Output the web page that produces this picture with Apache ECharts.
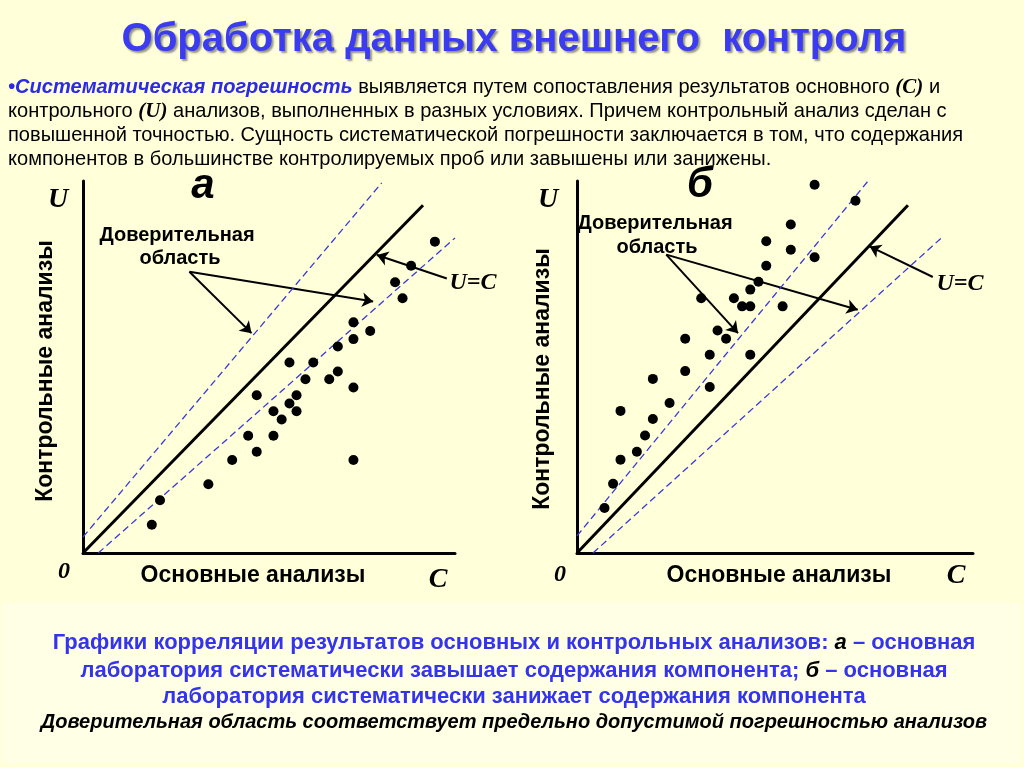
<!DOCTYPE html>
<html><head><meta charset="utf-8">
<script src="https://cdn.jsdelivr.net/npm/echarts@6/dist/echarts.min.js"></script>
<style>html,body{margin:0;padding:0;background:#FFFFDA}#c{width:1024px;height:767px}</style>
</head><body><div id="c"></div><script>
// ---- data (units of the plot: C on x, U on y) ----
const pointsA = [[94.6,83.7],[88.2,77.2],[83.9,72.8],[85.9,68.5],[72.7,62.0],[77.2,59.7],[72.7,57.5],[68.5,55.5],
  [55.5,51.2],[61.9,51.2],[59.8,46.7],[66.2,46.7],[68.5,48.8],[72.7,44.5],[46.7,42.4],[57.4,42.4],[55.5,40.2],
  [51.2,38.1],[57.4,38.1],[53.4,35.9],[44.4,31.5],[51.2,31.5],[46.7,27.2],[40.1,25.0],[72.7,25.0],[33.7,18.5],
  [20.7,14.2],[18.5,7.6]];
const pointsB = [[63.9,99.0],[74.9,94.7],[57.5,88.3],[50.9,83.8],[57.5,81.5],[63.9,79.5],[50.9,77.2],[48.8,72.9],
  [46.6,70.8],[33.4,68.5],[42.2,68.5],[44.4,66.3],[46.6,66.3],[55.3,66.3],[37.8,59.8],[40.1,57.6],[29.1,57.6],
  [35.7,53.3],[46.6,53.3],[29.1,48.9],[35.7,44.6],[20.4,46.8],[24.9,40.3],[11.7,38.2],[20.4,36.0],[18.3,31.6],
  [16.1,27.2],[11.7,25.1],[9.7,18.6],[7.4,12.1]];
const identityA = [[0,0],[91.4,93.5]];
const upperA = [[0,4.3],[80.3,99.5]];
const lowerA = [[4.1,0],[100,84.7]];
const identityB = [[0,0],[89,93.5]];
const upperB = [[0,4.6],[78.2,99.9]];
const lowerB = [[4.3,0],[98,84.7]];
const arrowsA = [[[28.6,75.6],[45.3,59.1]],[[28.6,75.6],[78.0,67.6]],[[97.8,73.8],[79.0,80.1]]];
const arrowsB = [[[24.0,80.2],[43.3,59.1]],[[24.0,80.2],[75.5,65.4]],[[95.7,74.2],[78.7,82.4]]];
const xMaxA = 100, yMaxA = 100, xMaxB = 106.5, yMaxB = 100;

const titleText = 'Обработка данных внешнего  контроля';
const bodyLines = [
  '{h|•Систематическая погрешность}{n| выявляется путем сопоставления результатов основного }{t|(C)}{n| и}',
  '{n|контрольного }{t|(U)}{n| анализов, выполненных в разных условиях. Причем контрольный анализ сделан с}',
  '{n|повышенной точностью. Сущность систематической погрешности заключается в том, что содержания}',
  '{n|компонентов в большинстве контролируемых проб или завышены или занижены.}'
];
const captionLines = [
  '{b|Графики корреляции результатов основных и контрольных анализов: }{k|а}{b| – основная}',
  '{b|лаборатория систематически завышает содержания компонента; }{k|б}{b| – основная}',
  '{b|лаборатория систематически занижает содержания компонента}',
  '{i|Доверительная область соответствует предельно допустимой погрешностью анализов}'
];
const labelRegion = ['Доверительная', 'область'];
const labelY = 'Контрольные анализы';
const labelX = 'Основные анализы';
const panelNames = ['а', 'б'];

const SANS = 'Liberation Sans, Arial, sans-serif';
const SERIF = 'Liberation Serif, Times New Roman, serif';
const BLUE = '#3434EE';

function axisX(i, max) {
  return {type:'value', gridIndex:i, min:0, max:max, axisLine:{show:true, onZero:false, lineStyle:{color:'#000', width:3}},
    axisTick:{show:false}, axisLabel:{show:false}, splitLine:{show:false}};
}
function seriesFor(i, pts, ident, up, low, arrows) {
  const lineBase = {type:'line', xAxisIndex:i, yAxisIndex:i, symbol:'none', showSymbol:false, silent:true};
  return [
    Object.assign({}, lineBase, {data:up, lineStyle:{color:'#3A3AD8', width:1.3, type:[7,4]}}),
    Object.assign({}, lineBase, {data:low, lineStyle:{color:'#3A3AD8', width:1.3, type:[7,4]}}),
    Object.assign({}, lineBase, {data:ident, lineStyle:{color:'#000', width:3}}),
    {type:'lines', coordinateSystem:'cartesian2d', xAxisIndex:i, yAxisIndex:i, symbol:['none','arrow'], symbolSize:[7,11],
      lineStyle:{color:'#000', width:2, opacity:1}, data:arrows.map(a => ({coords:a}))},
    {type:'scatter', xAxisIndex:i, yAxisIndex:i, symbolSize:10, itemStyle:{color:'#000', opacity:1}, data:pts, z:5}
  ];
}
function txt(x, y, text, font, fill, extra) {
  return Object.assign({type:'text', x:x, y:y, style:{text:text, font:font, fill:fill, textAlign:'center', textVerticalAlign:'middle'}}, extra||{});
}

const bodyRich = {
  h:{fontFamily:SANS, fontSize:21, fontStyle:'italic', fontWeight:'bold', fill:'#2B2BE6'},
  n:{fontFamily:SANS, fontSize:21, fill:'#000'},
  t:{fontFamily:SERIF, fontSize:22, fontStyle:'italic', fontWeight:'bold', fill:'#000'}
};
const capRich = {
  b:{fontFamily:SANS, fontSize:22, fontWeight:'bold', fill:BLUE},
  k:{fontFamily:SANS, fontSize:22, fontWeight:'bold', fontStyle:'italic', fill:'#000'},
  i:{fontFamily:SANS, fontSize:20, fontWeight:'bold', fontStyle:'italic', fill:'#000'}
};

const graphics = [
  {type:'rect', shape:{x:2, y:603, width:1019, height:160}, style:{fill:'#FFFFE6'}, z:-10},
  {type:'text', x:514, y:40,
    style:{text:titleText, font:'bold 40px ' + SANS, fill:'#3B3BF2', textAlign:'center', textVerticalAlign:'middle',
      textShadowColor:'rgba(60,60,60,0.55)', textShadowOffsetX:2, textShadowOffsetY:2, textShadowBlur:2}}
];
bodyLines.forEach((l, k) => graphics.push({type:'text', x:8, y:87 + 24*k, scaleX:0.955,
  style:{text:l, rich:bodyRich, textAlign:'left', textVerticalAlign:'middle'}}));
captionLines.forEach((l, k) => graphics.push({type:'text', x:514, y:[643,671,697,722][k], scaleX:1,
  style:{text:l, rich:capRich, textAlign:'center', textVerticalAlign:'middle'}}));

// panel labels
const panels = [
  {name:[203,186], U:[58,200], reg:[[177,235],[180,258]], yl:[46,371], zero:[64,572], xl:[253,576], C:[438,580], UC:[473,283]},
  {name:[700,185], U:[548,200], reg:[[655,223],[657,247]], yl:[543,379], zero:[560,575], xl:[779,576], C:[956,576], UC:[960,284]}
];
panels.forEach((p, i) => {
  graphics.push(txt(p.name[0], p.name[1], panelNames[i], 'italic bold 42px ' + SANS, '#000'));
  graphics.push(txt(p.U[0], p.U[1], 'U', 'italic bold 28px ' + SERIF, '#000'));
  graphics.push(txt(p.reg[0][0], p.reg[0][1], labelRegion[0], 'bold 20px ' + SANS, '#000'));
  graphics.push(txt(p.reg[1][0], p.reg[1][1], labelRegion[1], 'bold 20px ' + SANS, '#000'));
  graphics.push(txt(p.yl[0], p.yl[1], labelY, 'bold 23px ' + SANS, '#000', {rotation:Math.PI/2}));
  graphics.push(txt(p.zero[0], p.zero[1], '0', 'italic bold 24px ' + SERIF, '#000'));
  graphics.push(txt(p.xl[0], p.xl[1], labelX, 'bold 23px ' + SANS, '#000'));
  graphics.push(txt(p.C[0], p.C[1], 'C', 'italic bold 28px ' + SERIF, '#000'));
  graphics.push(txt(p.UC[0], p.UC[1], 'U=C', 'italic bold 24px ' + SERIF, '#000'));
});

const chart = echarts.init(document.getElementById('c'));
chart.setOption({
  animation:false,
  backgroundColor:'#FFFFDA',
  grid:[{left:83, top:181, width:372, height:372}, {left:577, top:181, width:396, height:372}],
  xAxis:[axisX(0, xMaxA), axisX(1, xMaxB)],
  yAxis:[axisX(0, yMaxA), axisX(1, yMaxB)],
  series:[].concat(seriesFor(0, pointsA, identityA, upperA, lowerA, arrowsA), seriesFor(1, pointsB, identityB, upperB, lowerB, arrowsB)),
  graphic:graphics
});
</script></body></html>
